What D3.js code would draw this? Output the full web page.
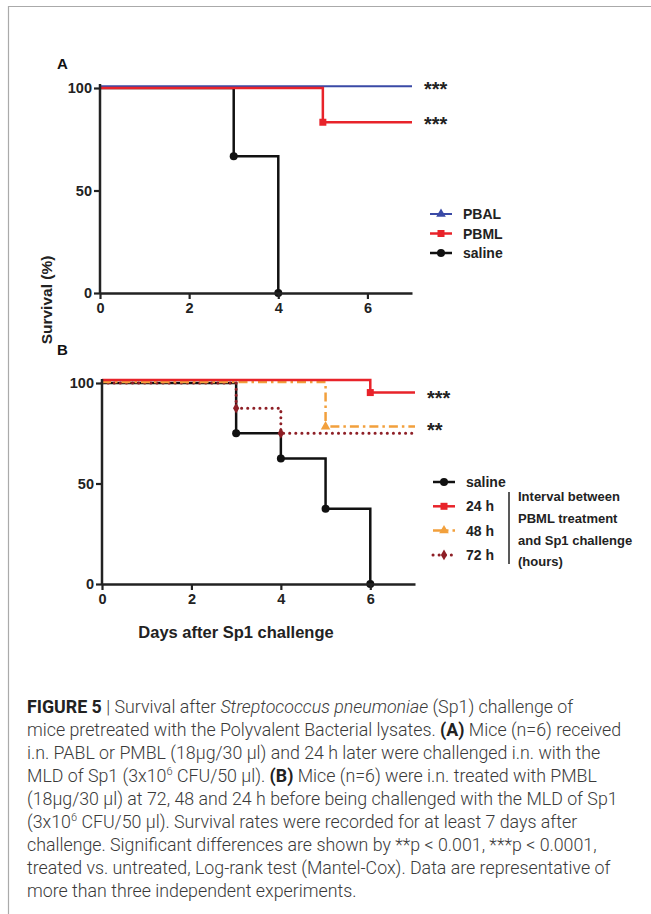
<!DOCTYPE html>
<html>
<head>
<meta charset="utf-8">
<script src="https://cdn.jsdelivr.net/npm/d3@7"></script>
<style>
  body { margin: 0; background: #fff; }
  svg text { font-family: "Liberation Sans", Arial, sans-serif; }
</style>
</head>
<body>
<div id="chart"></div>
<script>
// panel A data (days, survival %)
const pbalDays = [0, 7], pbalSurv = [100, 100];
const pbmlDays = [0, 5, 7], pbmlSurv = [100, 83.3, 83.3];
const salADays = [0, 3, 4], salASurv = [100, 66.7, 0];

// panel B data
const salBDays = [0, 3, 4, 5, 6], salBSurv = [100, 75, 62.5, 37.5, 0];
const h24Days = [0, 6, 7], h24Surv = [100, 93.75, 93.75];
const h48Days = [0, 5, 7], h48Surv = [100, 77.8, 77.8];
const h72Days = [0, 3, 4, 7], h72Surv = [100, 87.5, 75, 75];

const xTicks = [0, 2, 4, 6];
const yTicks = [0, 50, 100];

const width = 651, height = 914;
const svg = d3.select("#chart").append("svg")
    .attr("width", width)
    .attr("height", height);

// frame lines
svg.append("line").attr("x1", 8).attr("x2", width).attr("y1", 6.5).attr("y2", 6.5)
    .attr("stroke", "#aaa").attr("stroke-width", 1.2);
svg.append("line").attr("x1", 8.5).attr("x2", 8.5).attr("y1", 6).attr("y2", height)
    .attr("stroke", "#aaa").attr("stroke-width", 1.2);

const ink = "#222";

function toPoints(days, surv) {
    return days.map((d, i) => [d, surv[i]]);
}

function drawMarker(g, type, x, y, color) {
    if (type === "circle") {
        g.append("circle").attr("cx", x).attr("cy", y).attr("r", 4).attr("fill", color);
    } else if (type === "square") {
        g.append("rect").attr("x", x - 3.5).attr("y", y - 3.5).attr("width", 7).attr("height", 7).attr("fill", color);
    } else if (type === "triangle") {
        g.append("path").attr("d", d3.symbol(d3.symbolTriangle, 40)()).attr("transform", `translate(${x},${y})`).attr("fill", color);
    } else if (type === "diamond") {
        g.append("path").attr("d", d3.symbol(d3.symbolDiamond, 34)()).attr("transform", `translate(${x},${y})`).attr("fill", color);
    }
}

function panel(opts) {
    const x = d3.scaleLinear().domain([0, 7]).range([opts.x0, opts.x1]);
    const y = d3.scaleLinear().domain([0, 100]).range([opts.y0, opts.y1]);
    const g = svg.append("g");

    // series
    const line = d3.line().x(d => x(d[0])).y(d => y(d[1])).curve(d3.curveStepAfter);
    opts.series.forEach(s => {
        const pts = toPoints(s.days, s.surv);
        const sg = g.append("g").attr("transform", `translate(0,${s.shift || 0})`);
        sg.append("path")
            .attr("d", line(pts))
            .attr("fill", "none")
            .attr("stroke", s.color)
            .attr("stroke-width", s.width || 2.5)
            .attr("stroke-dasharray", s.dash || null)
            .attr("stroke-linecap", s.cap || "butt");
        pts.forEach((p, i) => {
            if (i > 0 && p[1] < pts[i - 1][1]) drawMarker(sg, s.marker, x(p[0]), y(p[1]), s.mcolor || s.color);
        });
    });

    // axes
    const xAxis = g.append("g").attr("transform", `translate(0,${opts.y0})`)
        .call(d3.axisBottom(x).tickValues(xTicks).tickFormat(d3.format("d")).tickSize(6).tickSizeOuter(0).tickPadding(4));
    const yAxis = g.append("g").attr("transform", `translate(${opts.x0},0)`)
        .call(d3.axisLeft(y).tickValues(yTicks).tickFormat(d3.format("d")).tickSize(6).tickSizeOuter(0).tickPadding(2));
    yAxis.select(".domain").attr("d", `M0,${opts.y0}V${opts.y1 - 4}`);
    [xAxis, yAxis].forEach(a => {
        a.select(".domain").attr("stroke", ink).attr("stroke-width", 2.5);
        a.selectAll(".tick line").attr("stroke", ink).attr("stroke-width", 2.2);
        a.selectAll(".tick text").attr("fill", ink).attr("font-weight", "bold").attr("font-size", 14.5);
    });

    // significance stars
    opts.stars.forEach(s => {
        g.append("text").attr("x", opts.x1 + 12).attr("y", y(s.v) + (s.dy || 0) + 9)
            .attr("font-size", 20).attr("font-weight", "bold").attr("fill", ink).text(s.t);
    });

    // legend
    opts.legend.forEach((s, i) => {
        const ly = opts.ly + i * opts.lstep;
        g.append("line").attr("x1", opts.lx).attr("x2", opts.lx + 22).attr("y1", ly).attr("y2", ly)
            .attr("stroke", s.color).attr("stroke-width", s.width || 2.5)
            .attr("stroke-dasharray", s.dash || null).attr("stroke-linecap", s.cap || "butt");
        drawMarker(g, s.marker, opts.lx + 11, ly, s.mcolor || s.color);
        g.append("text").attr("x", opts.lx + 33).attr("y", ly + 5)
            .attr("font-size", 14).attr("font-weight", "bold").attr("fill", ink).text(s.name);
    });
    return { x, y, g };
}

const sPBAL = { name: "PBAL", days: pbalDays, surv: pbalSurv, color: "#3a4aa6", marker: "triangle", shift: -1.8, width: 2 };
const sPBML = { name: "PBML", days: pbmlDays, surv: pbmlSurv, color: "#e8232a", marker: "square" };
const sSalA = { name: "saline", days: salADays, surv: salASurv, color: "#111", marker: "circle" };

panel({
    x0: 100, x1: 412, y0: 293, y1: 88,
    series: [sSalA, sPBAL, sPBML],
    legend: [sPBAL, sPBML, sSalA],
    lx: 430, ly: 214, lstep: 19.5,
    stars: [{ t: "***", v: 100, dy: -1 }, { t: "***", v: 83.3 }]
});

const sSalB = { name: "saline", days: salBDays, surv: salBSurv, color: "#111", marker: "circle" };
const s24 = { name: "24 h", days: h24Days, surv: h24Surv, color: "#e8232a", marker: "square", shift: -3 };
const s48 = { name: "48 h", days: h48Days, surv: h48Surv, color: "#f2a03c", marker: "triangle", dash: "9,4,2.5,4", shift: -1 };
const s72 = { name: "72 h", days: h72Days, surv: h72Surv, color: "#8e1f26", marker: "diamond", dash: "0.1,6", cap: "round", width: 3 };

const pB = panel({
    x0: 102, x1: 415, y0: 584, y1: 383,
    series: [sSalB, s72, s48, s24],
    legend: [sSalB, s24, s48, s72],
    lx: 433, ly: 482, lstep: 24.3,
    stars: [{ t: "***", v: 93.75 }, { t: "**", v: 77.8 }]
});

// bracket note for legend B
pB.g.append("line").attr("x1", 509).attr("x2", 509).attr("y1", 492).attr("y2", 564)
    .attr("stroke", ink).attr("stroke-width", 1.5);
["Interval between", "PBML treatment", "and Sp1 challenge", "(hours)"].forEach((t, i) => {
    pB.g.append("text").attr("x", 518).attr("y", 501 + i * 21.8)
        .attr("font-size", 13).attr("font-weight", "bold").attr("fill", ink).text(t);
});

// panel letters and shared titles
svg.append("text").attr("x", 57).attr("y", 69).attr("font-size", 15).attr("font-weight", "bold").attr("fill", "#111").text("A");
svg.append("text").attr("x", 57).attr("y", 355).attr("font-size", 15).attr("font-weight", "bold").attr("fill", "#111").text("B");
svg.append("text").attr("transform", "translate(52,300) rotate(-90)").attr("text-anchor", "middle")
    .attr("font-size", 15.5).attr("font-weight", "bold").attr("fill", ink).text("Survival (%)");
svg.append("text").attr("x", 236).attr("y", 638).attr("text-anchor", "middle")
    .attr("font-size", 16.5).attr("font-weight", "bold").attr("fill", ink).text("Days after Sp1 challenge");

// caption
const caption = [
    [["FIGURE 5", "b"], [" | Survival after "], ["Streptococcus pneumoniae", "i"], [" (Sp1) challenge of"]],
    [["mice pretreated with the Polyvalent Bacterial lysates. "], ["(A)", "b"], [" Mice (n=6) received"]],
    [["i.n. PABL or PMBL (18µg/30 µl) and 24 h later were challenged i.n. with the"]],
    [["MLD of Sp1 (3x10"], ["6", "sup"], [" CFU/50 µl). "], ["(B)", "b"], [" Mice (n=6) were i.n. treated with PMBL"]],
    [["(18µg/30 µl) at 72, 48 and 24 h before being challenged with the MLD of Sp1"]],
    [["(3x10"], ["6", "sup"], [" CFU/50 µl). Survival rates were recorded for at least 7 days after"]],
    [["challenge. Significant differences are shown by **p < 0.001, ***p < 0.0001,"]],
    [["treated vs. untreated, Log-rank test (Mantel-Cox). Data are representative of"]],
    [["more than three independent experiments."]]
];
caption.forEach((parts, i) => {
    const t = svg.append("text").attr("x", 27).attr("y", 713 + i * 23)
        .attr("font-size", 17.8).attr("fill", "#3a3a3a")
        .style("font-family", "Roboto, 'Liberation Sans', sans-serif").attr("font-weight", 300);
    let prevSup = false;
    parts.forEach(p => {
        const ts = t.append("tspan").text(p[0]);
        if (p[1] === "b") ts.attr("font-weight", "bold").attr("fill", "#222");
        if (p[1] === "i") ts.attr("font-style", "italic");
        if (p[1] === "sup") ts.attr("font-size", 11).attr("dy", -7);
        else if (prevSup) ts.attr("dy", 7);
        prevSup = p[1] === "sup";
    });
});
</script>
</body>
</html>
